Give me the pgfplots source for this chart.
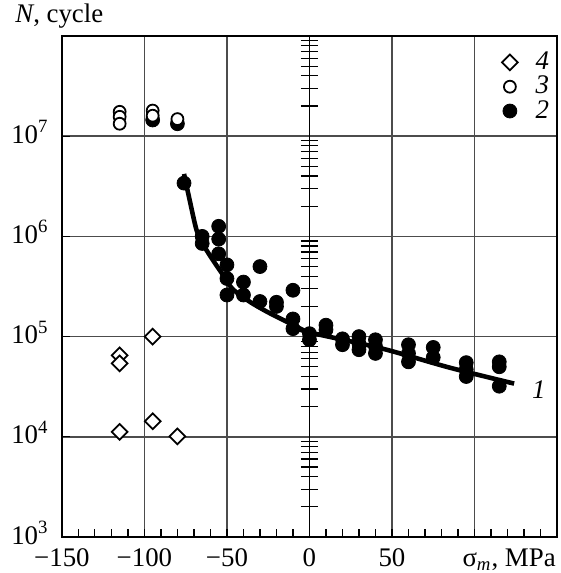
\documentclass[border=0pt,12pt]{standalone}
\usepackage{fontspec}
\setmainfont{Liberation Serif}
\usepackage{pgfplots}
\pgfplotsset{compat=1.18}
\newcommand\lbl{\fontsize{13.5}{15}\selectfont}
\begin{document}
\begin{tikzpicture}
\begin{axis}[
  name=main,
  scale only axis, width=248bp, height=251bp,
  xmin=-150, xmax=150, ymin=1e3, ymax=1e8, ymode=log,
  xtick={-150,-100,...,150},
  xticklabels={−150,−100,−50,0,50,{},{}},
  minor x tick num=4,
  ytick={1e3,1e4,1e5,1e6,1e7,1e8},
  yticklabels={10\textsuperscript{3},10\textsuperscript{4},10\textsuperscript{5},10\textsuperscript{6},10\textsuperscript{7},{}},
  yticklabel style={xshift=-2.5bp},
  yminorticks=false,
  tick pos=left, tick align=inside,
  major tick length=4bp, minor tick length=4bp,
  grid=major, major grid style={line width=0.7pt, black!70},
  axis line style={line width=1pt},
  tick style={line width=0.6pt, black},
  tick label style={font=\lbl},
  typeset ticklabels with strut,
  reverse legend,
  legend style={at={(rel axis cs:1.005,0.985)}, anchor=north east, draw=none, fill=none,
    font=\lbl\itshape, legend cell align=left, row sep=-2.5bp},
]
% curve 1
\addplot[smooth, line width=2.3pt, forget plot] coordinates {
  (-76,4.2e6) (-72.7,2.35e6) (-68.5,1.17e6) (-64.8,8.5e5) (-58.8,5.9e5)
  (-52.7,4.2e5) (-46.7,3.0e5) (-36.4,2.24e5) (-26,1.78e5) (-16.4,1.48e5)
  (-4.2,1.17e5) (0,1.1e5) (44,7.6e4) (85,4.9e4) (124,3.4e4)
};
% 2
\addplot[only marks, mark=*, mark size=3.5pt, mark options={fill=black, draw=black}] coordinates {
  (-95,1.45e7) (-80,1.33e7) (-76,3.4e6)
  (-65,1.0e6) (-65,8.5e5)
  (-55,1.26e6) (-55,9.4e5) (-55,6.7e5)
  (-50,5.2e5) (-50,3.8e5) (-50,2.6e5)
  (-40,3.5e5) (-40,2.6e5)
  (-30,5.0e5) (-30,2.24e5)
  (-20,2.2e5) (-20,2.0e5)
  (-10,2.9e5) (-10,1.5e5) (-10,1.2e5)
  (0,1.07e5) (0,9.3e4)
  (10,1.3e5) (10,1.17e5)
  (20,9.5e4) (20,8.3e4)
  (30,1.0e5) (30,8.5e4) (30,7.4e4)
  (40,9.3e4) (40,8e4) (40,6.8e4)
  (60,8.3e4) (60,6.8e4) (60,5.6e4)
  (75,7.8e4) (75,6.2e4)
  (95,5.5e4) (95,4.7e4) (95,4.0e4)
  (115,5.6e4) (115,5.0e4) (115,3.2e4)
};
\addlegendentry{\hspace{7bp}2}
% 3
\addplot[only marks, mark=*, mark size=3pt, mark options={fill=white, draw=black, line width=0.9pt}] coordinates {
  (-115,1.75e7) (-115,1.56e7) (-115,1.33e7)
  (-95,1.8e7) (-95,1.6e7) (-80,1.48e7)
};
\addlegendentry{\hspace{7bp}3}
% 4
\addplot[only marks, mark=square*, mark size=2.8pt, mark options={fill=white, draw=black, line width=0.9pt, rotate=45}] coordinates {
  (-115,6.5e4) (-115,5.4e4) (-115,1.12e4)
  (-95,1.0e5) (-95,1.43e4) (-80,1.01e4)
};
\addlegendentry{\hspace{7bp}4}
\node[font=\lbl\itshape] at (axis cs:139,2.95e4) {1};
\end{axis}
\node[anchor=base west, font=\lbl] at ([xshift=-27.5bp, yshift=6.5bp]main.north west) {\textit{N}, cycle};
\node[anchor=base, font=\lbl] at ([xshift=224bp, yshift=-14.5bp]main.south west) {σ\textsubscript{\textit{m}}, MPa};
% ticks on the vertical line through zero
\begin{scope}[overlay]
\begin{axis}[
  scale only axis, width=248bp, height=251bp,
  xmin=-150, xmax=150, ymin=1e3, ymax=1e8, ymode=log,
  axis x line=none, axis y line=center,
  axis line style={-, line width=0.6pt},
  ytick={1e3,1e4,1e5,1e6,1e7,1e8}, yticklabel=\empty,
  minor ytick={2e3,3e3,4e3,5e3,6e3,7e3,8e3,9e3,
    2e4,3e4,4e4,5e4,6e4,7e4,8e4,9e4,
    2e5,3e5,4e5,5e5,6e5,7e5,8e5,9e5,
    2e6,3e6,4e6,5e6,6e6,7e6,8e6,9e6,
    2e7,3e7,4e7,5e7,6e7,7e7,8e7,9e7},
  tick align=center, major tick length=0pt, minor tick length=8.5bp,
  minor tick style={line width=0.6pt, black},
]
\end{axis}
\end{scope}
\pgfresetboundingbox
\path[use as bounding box] ([xshift=-31bp, yshift=-18bp]main.south west) rectangle ([xshift=1.5bp, yshift=18bp]main.north east);
\end{tikzpicture}
\end{document}
